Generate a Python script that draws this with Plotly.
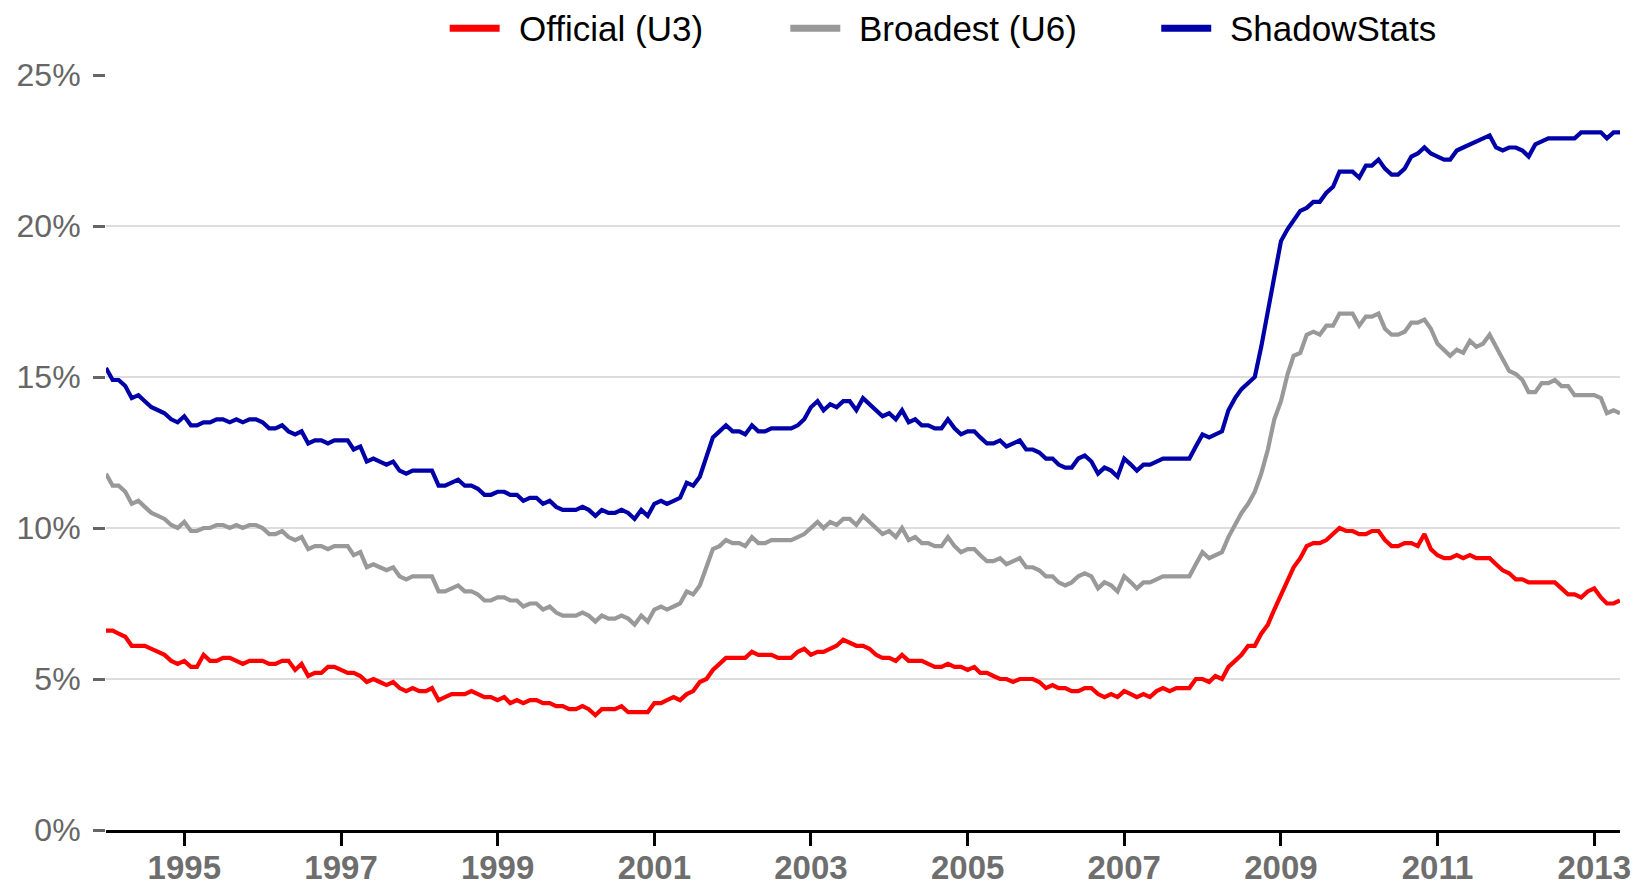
import pandas as pd
import plotly.graph_objects as go

'''
Unemployment rates: official U3, broadest U6 and the ShadowStats alternate, monthly 1994 - May 2013.
'''

start_month = "1994-01-01"

official_u3 = [
    6.6, 6.6, 6.5, 6.4, 6.1, 6.1, 6.1, 6.0, 5.9, 5.8, 5.6, 5.5,
    5.6, 5.4, 5.4, 5.8, 5.6, 5.6, 5.7, 5.7, 5.6, 5.5, 5.6, 5.6,
    5.6, 5.5, 5.5, 5.6, 5.6, 5.3, 5.5, 5.1, 5.2, 5.2, 5.4, 5.4,
    5.3, 5.2, 5.2, 5.1, 4.9, 5.0, 4.9, 4.8, 4.9, 4.7, 4.6, 4.7,
    4.6, 4.6, 4.7, 4.3, 4.4, 4.5, 4.5, 4.5, 4.6, 4.5, 4.4, 4.4,
    4.3, 4.4, 4.2, 4.3, 4.2, 4.3, 4.3, 4.2, 4.2, 4.1, 4.1, 4.0,
    4.0, 4.1, 4.0, 3.8, 4.0, 4.0, 4.0, 4.1, 3.9, 3.9, 3.9, 3.9,
    4.2, 4.2, 4.3, 4.4, 4.3, 4.5, 4.6, 4.9, 5.0, 5.3, 5.5, 5.7,
    5.7, 5.7, 5.7, 5.9, 5.8, 5.8, 5.8, 5.7, 5.7, 5.7, 5.9, 6.0,
    5.8, 5.9, 5.9, 6.0, 6.1, 6.3, 6.2, 6.1, 6.1, 6.0, 5.8, 5.7,
    5.7, 5.6, 5.8, 5.6, 5.6, 5.6, 5.5, 5.4, 5.4, 5.5, 5.4, 5.4,
    5.3, 5.4, 5.2, 5.2, 5.1, 5.0, 5.0, 4.9, 5.0, 5.0, 5.0, 4.9,
    4.7, 4.8, 4.7, 4.7, 4.6, 4.6, 4.7, 4.7, 4.5, 4.4, 4.5, 4.4,
    4.6, 4.5, 4.4, 4.5, 4.4, 4.6, 4.7, 4.6, 4.7, 4.7, 4.7, 5.0,
    5.0, 4.9, 5.1, 5.0, 5.4, 5.6, 5.8, 6.1, 6.1, 6.5, 6.8, 7.3,
    7.8, 8.3, 8.7, 9.0, 9.4, 9.5, 9.5, 9.6, 9.8, 10.0, 9.9, 9.9,
    9.8, 9.8, 9.9, 9.9, 9.6, 9.4, 9.4, 9.5, 9.5, 9.4, 9.8, 9.3,
    9.1, 9.0, 9.0, 9.1, 9.0, 9.1, 9.0, 9.0, 9.0, 8.8, 8.6, 8.5,
    8.3, 8.3, 8.2, 8.2, 8.2, 8.2, 8.2, 8.0, 7.8, 7.8, 7.7, 7.9,
    8.0, 7.7, 7.5, 7.5, 7.6,
]

broadest_u6 = [
    11.8, 11.4, 11.4, 11.2, 10.8, 10.9, 10.7, 10.5, 10.4, 10.3, 10.1, 10.0,
    10.2, 9.9, 9.9, 10.0, 10.0, 10.1, 10.1, 10.0, 10.1, 10.0, 10.1, 10.1,
    10.0, 9.8, 9.8, 9.9, 9.7, 9.6, 9.7, 9.3, 9.4, 9.4, 9.3, 9.4,
    9.4, 9.4, 9.1, 9.2, 8.7, 8.8, 8.7, 8.6, 8.7, 8.4, 8.3, 8.4,
    8.4, 8.4, 8.4, 7.9, 7.9, 8.0, 8.1, 7.9, 7.9, 7.8, 7.6, 7.6,
    7.7, 7.7, 7.6, 7.6, 7.4, 7.5, 7.5, 7.3, 7.4, 7.2, 7.1, 7.1,
    7.1, 7.2, 7.1, 6.9, 7.1, 7.0, 7.0, 7.1, 7.0, 6.8, 7.1, 6.9,
    7.3, 7.4, 7.3, 7.4, 7.5, 7.9, 7.8, 8.1, 8.7, 9.3, 9.4, 9.6,
    9.5, 9.5, 9.4, 9.7, 9.5, 9.5, 9.6, 9.6, 9.6, 9.6, 9.7, 9.8,
    10.0, 10.2, 10.0, 10.2, 10.1, 10.3, 10.3, 10.1, 10.4, 10.2, 10.0, 9.8,
    9.9, 9.7, 10.0, 9.6, 9.7, 9.5, 9.5, 9.4, 9.4, 9.7, 9.4, 9.2,
    9.3, 9.3, 9.1, 8.9, 8.9, 9.0, 8.8, 8.9, 9.0, 8.7, 8.7, 8.6,
    8.4, 8.4, 8.2, 8.1, 8.2, 8.4, 8.5, 8.4, 8.0, 8.2, 8.1, 7.9,
    8.4, 8.2, 8.0, 8.2, 8.2, 8.3, 8.4, 8.4, 8.4, 8.4, 8.4, 8.8,
    9.2, 9.0, 9.1, 9.2, 9.7, 10.1, 10.5, 10.8, 11.2, 11.8, 12.6, 13.6,
    14.2, 15.1, 15.7, 15.8, 16.4, 16.5, 16.4, 16.7, 16.7, 17.1, 17.1, 17.1,
    16.7, 17.0, 17.0, 17.1, 16.6, 16.4, 16.4, 16.5, 16.8, 16.8, 16.9, 16.6,
    16.1, 15.9, 15.7, 15.9, 15.8, 16.2, 16.0, 16.1, 16.4, 16.0, 15.6, 15.2,
    15.1, 14.9, 14.5, 14.5, 14.8, 14.8, 14.9, 14.7, 14.7, 14.4, 14.4, 14.4,
    14.4, 14.3, 13.8, 13.9, 13.8,
]

shadowstats = [
    15.3, 14.9, 14.9, 14.7, 14.3, 14.4, 14.2, 14.0, 13.9, 13.8, 13.6, 13.5,
    13.7, 13.4, 13.4, 13.5, 13.5, 13.6, 13.6, 13.5, 13.6, 13.5, 13.6, 13.6,
    13.5, 13.3, 13.3, 13.4, 13.2, 13.1, 13.2, 12.8, 12.9, 12.9, 12.8, 12.9,
    12.9, 12.9, 12.6, 12.7, 12.2, 12.3, 12.2, 12.1, 12.2, 11.9, 11.8, 11.9,
    11.9, 11.9, 11.9, 11.4, 11.4, 11.5, 11.6, 11.4, 11.4, 11.3, 11.1, 11.1,
    11.2, 11.2, 11.1, 11.1, 10.9, 11.0, 11.0, 10.8, 10.9, 10.7, 10.6, 10.6,
    10.6, 10.7, 10.6, 10.4, 10.6, 10.5, 10.5, 10.6, 10.5, 10.3, 10.6, 10.4,
    10.8, 10.9, 10.8, 10.9, 11.0, 11.5, 11.4, 11.7, 12.4, 13.0, 13.2, 13.4,
    13.2, 13.2, 13.1, 13.4, 13.2, 13.2, 13.3, 13.3, 13.3, 13.3, 13.4, 13.6,
    14.0, 14.2, 13.9, 14.1, 14.0, 14.2, 14.2, 13.9, 14.3, 14.1, 13.9, 13.7,
    13.8, 13.6, 13.9, 13.5, 13.6, 13.4, 13.4, 13.3, 13.3, 13.6, 13.3, 13.1,
    13.2, 13.2, 13.0, 12.8, 12.8, 12.9, 12.7, 12.8, 12.9, 12.6, 12.6, 12.5,
    12.3, 12.3, 12.1, 12.0, 12.0, 12.3, 12.4, 12.2, 11.8, 12.0, 11.9, 11.7,
    12.3, 12.1, 11.9, 12.1, 12.1, 12.2, 12.3, 12.3, 12.3, 12.3, 12.3, 12.7,
    13.1, 13.0, 13.1, 13.2, 13.9, 14.3, 14.6, 14.8, 15.0, 16.0, 17.2, 18.2,
    19.5, 19.9, 20.2, 20.5, 20.6, 20.8, 20.8, 21.1, 21.3, 21.8, 21.8, 21.8,
    21.6, 22.0, 22.0, 22.2, 21.9, 21.7, 21.7, 21.9, 22.3, 22.4, 22.6, 22.4,
    22.3, 22.2, 22.2, 22.5, 22.6, 22.7, 22.8, 22.9, 23.0, 22.6, 22.5, 22.6,
    22.6, 22.5, 22.3, 22.7, 22.8, 22.9, 22.9, 22.9, 22.9, 22.9, 23.1, 23.1,
    23.1, 23.1, 22.9, 23.1, 23.1,
]

series_names = ["Official (U3)", "Broadest (U6)", "ShadowStats"]
series_colors = ["#ff0000", "#999999", "#0000a8"]
legend_x = [0.227, 0.452, 0.697]

dates = pd.date_range(start_month, periods=len(official_u3), freq="MS")

fig = go.Figure()

# draw back to front: official, broadest, shadowstats
for name, values, color in zip(series_names, [official_u3, broadest_u6, shadowstats], series_colors):
    fig.add_trace(
        go.Scatter(
            x=dates,
            y=values,
            mode="lines",
            name=name,
            line=dict(color=color, width=4.2),
            showlegend=False,
        ))

# legend drawn by hand so the swatches and spacing look like the original
legend_y = 1.062
for name, color, lx in zip(series_names, series_colors, legend_x):
    fig.add_shape(
        type="line", xref="paper", yref="paper",
        x0=lx, x1=lx + 0.033, y0=legend_y, y1=legend_y,
        line=dict(color=color, width=7),
    )
    fig.add_annotation(
        xref="paper", yref="paper", x=lx + 0.045, y=legend_y,
        text=name, showarrow=False, xanchor="left", yanchor="middle",
        borderpad=0,
        font=dict(size=35, color="#000000"),
    )

# page body adds an 8px margin, so the figure is 8px smaller than the window
fig.update_layout(
    width=1632,
    height=877,
    plot_bgcolor="white",
    paper_bgcolor="white",
    margin=dict(l=98, r=20, t=67, b=55),
    font=dict(family="Liberation Sans, Arial, sans-serif"),
    showlegend=False,
    xaxis=dict(
        type="date",
        range=[dates[0], dates[-1]],
        tick0="1995-01-01",
        dtick="M24",
        tickformat="%Y",
        ticks="outside",
        ticklen=13,
        tickwidth=3,
        tickcolor="black",
        showline=True,
        linecolor="black",
        linewidth=3,
        showgrid=False,
        zeroline=False,
        automargin=False,
        ticklabelstandoff=-7,
        tickfont=dict(size=33, color="#6e6e6e", weight="bold"),
    ),
    yaxis=dict(
        range=[0, 25],
        dtick=5,
        ticksuffix="%",
        ticks="outside",
        ticklen=12,
        tickwidth=3,
        tickcolor="#666666",
        showline=False,
        showgrid=True,
        gridcolor="#dddddd",
        gridwidth=2,
        zeroline=False,
        automargin=False,
        ticklabelstandoff=6,
        tickfont=dict(size=32, color="#666666"),
    ),
)

fig.write_html("out.html")
